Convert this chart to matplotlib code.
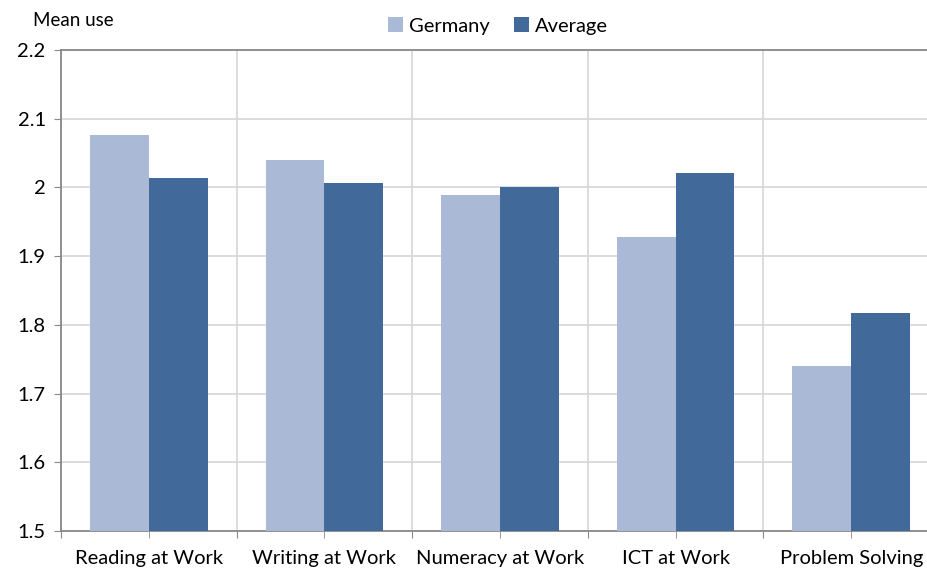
import matplotlib
matplotlib.use('AGG')
import numpy as np
import matplotlib.pyplot as plt
from matplotlib.ticker import FixedLocator, NullFormatter

plt.rcParams['font.family'] = ['Lato', 'DejaVu Sans']

categories = ['Reading at Work', 'Writing at Work', 'Numeracy at Work', 'ICT at Work', 'Problem Solving']
germany = [2.076, 2.040, 1.989, 1.928, 1.740]
average = [2.014, 2.007, 2.000, 2.021, 1.817]

fig = plt.figure(figsize=(9.28, 5.71), dpi=100)
ax = fig.add_axes([61 / 928, 1 - 531 / 571, 878 / 928, 481 / 571])

x = np.arange(len(categories))
w = 0.335
ax.bar(x - w / 2, germany, w, color='#aab9d6', label='Germany', zorder=3)
ax.bar(x + w / 2, average, w, color='#416a9b', label='Average', zorder=3)

ax.set_xlim(-0.5, len(categories) - 0.5)
ax.set_ylim(1.5, 2.2)
ax.set_yticks([1.5, 1.6, 1.7, 1.8, 1.9, 2.0, 2.1, 2.2])
ax.set_yticklabels(['1.5', '1.6', '1.7', '1.8', '1.9', '2', '2.1', '2.2'], fontsize=14.5)

# category boundaries get gridlines, centres get the labels
ax.xaxis.set_major_locator(FixedLocator(np.arange(len(categories) + 1) - 0.5))
ax.xaxis.set_major_formatter(NullFormatter())
ax.xaxis.set_minor_locator(FixedLocator(x))
ax.set_xticklabels(categories, minor=True, fontsize=14.5)

ax.grid(True, axis='both', which='major', color='#d9d9d9', lw=1.3, zorder=0)
ax.tick_params(axis='x', which='both', direction='out', length=5, color='#888888')
ax.tick_params(axis='y', direction='out', length=5, color='#888888', pad=6)
ax.tick_params(axis='x', which='minor', pad=9)

for s in ['top', 'right']:
    ax.spines[s].set_visible(False)
for s in ['left', 'bottom']:
    ax.spines[s].set_color('#888888')
    ax.spines[s].set_linewidth(1.3)
ax.axhline(2.2, color='#888888', lw=1.3, zorder=4, clip_on=False)

fig.text(33 / 928, 1 - 20 / 571, 'Mean use', fontsize=13.5, va='center', ha='left')
ax.legend(loc='center', bbox_to_anchor=((498 - 61) / 878, 1 + 24 / 481),
          ncol=2, frameon=False, fontsize=14.5, handlelength=0.75, handleheight=0.75,
          handletextpad=0.3, columnspacing=1.2)

fig.savefig('out.png', dpi=100)
